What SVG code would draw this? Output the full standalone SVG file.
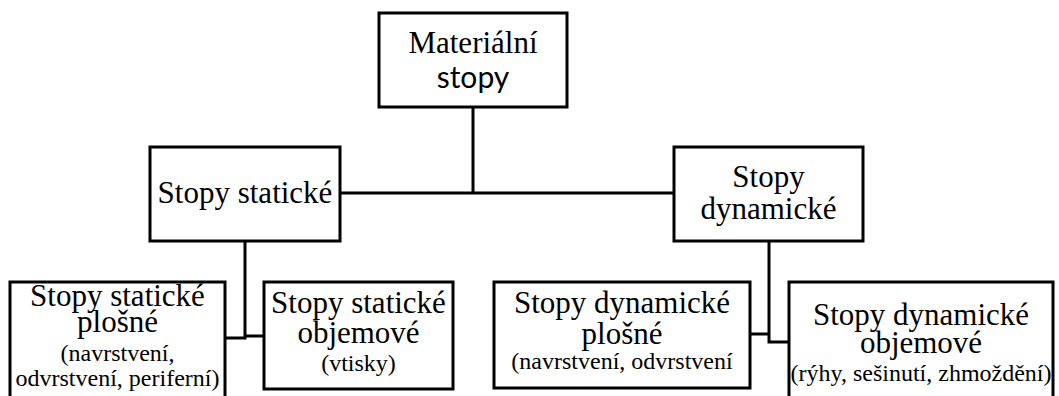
<svg xmlns="http://www.w3.org/2000/svg" width="1059" height="396" viewBox="0 0 1059 396">
<style>
.box{fill:#fff;stroke:#000;stroke-width:3}
.ln{fill:none;stroke:#000;stroke-width:3}
text{fill:#000;text-anchor:middle}
.t{font-family:'Liberation Serif','Times New Roman',serif;font-size:31px}
.s{font-family:'Liberation Serif','Times New Roman',serif;font-size:24px}
.sans{font-family:Lato,'Liberation Sans',sans-serif;font-size:30px}
</style>
<rect width="1059" height="396" fill="#fff"/>
<g id="connectors">
<path class="ln" d="M473 107V193M340 193H674"/>
<path class="ln" d="M245 241V338H225M245 336H264"/>
<path class="ln" d="M769 241V342H789M769 334H750"/>
</g>
<g id="n-material">
<rect class="box" x="379" y="13" width="188" height="94"/>
<text class="t" x="473" y="53">Materiální</text>
<text class="sans" x="473" y="88">stopy</text>
</g>
<g id="n-static">
<rect class="box" x="150" y="147" width="190" height="94"/>
<text class="t" x="245" y="203">Stopy statické</text>
</g>
<g id="n-dynamic">
<rect class="box" x="674" y="147" width="189" height="94"/>
<text class="t" x="768.5" y="187">Stopy</text>
<text class="t" x="768.5" y="219">dynamické</text>
</g>
<g id="n-static-flat">
<rect class="box" x="10" y="282" width="215" height="130"/>
<text class="t" x="117.5" y="306">Stopy statické</text>
<text class="t" x="117.5" y="332">plošné</text>
<text class="s" x="117.5" y="361">(navrstvení,</text>
<text class="s" x="117.5" y="386">odvrstvení, periferní)</text>
</g>
<g id="n-static-vol">
<rect class="box" x="264" y="282" width="189" height="107"/>
<text class="t" x="358.5" y="313">Stopy statické</text>
<text class="t" x="358.5" y="343">objemové</text>
<text class="s" x="358.5" y="371">(vtisky)</text>
</g>
<g id="n-dynamic-flat">
<rect class="box" x="494" y="282" width="256" height="106"/>
<text class="t" x="622" y="313">Stopy dynamické</text>
<text class="t" x="622" y="344">plošné</text>
<text class="s" x="622" y="369">(navrstvení, odvrstvení</text>
</g>
<g id="n-dynamic-vol">
<rect class="box" x="789" y="282" width="264" height="130"/>
<text class="t" x="921" y="325">Stopy dynamické</text>
<text class="t" x="921" y="353">objemové</text>
<text class="s" x="921" y="381">(rýhy, sešinutí, zhmoždění)</text>
</g>
</svg>
